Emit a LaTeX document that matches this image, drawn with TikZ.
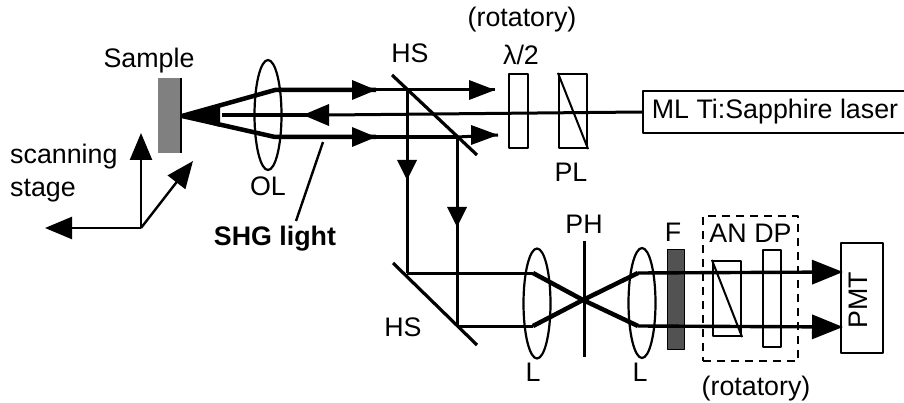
\documentclass[tikz,border=0pt]{standalone}
\usepackage{fontspec}
\setmainfont{Liberation Sans}
\usetikzlibrary{arrows.meta,shapes.geometric}

\tikzset{
  lbl/.style={inner sep=0pt, font=\fontsize{26.8}{32}\selectfont},
  part/.style={draw, line width=2.2pt, inner sep=0pt},
  lens/.style={part, ellipse, minimum width=27pt, minimum height=110pt},
  plate/.style={part, rectangle, minimum height=74pt},
  beam/.style={line width=3pt},
  thickbeam/.style={line width=4.5pt},
  ray/.style={line width=3.4pt, -{Triangle[length=31pt,width=24pt]}},
  axis/.style={line width=2.4pt, -{Triangle[length=27pt,width=22pt]}},
  mirror/.style={line width=3.2pt}
}

\begin{document}
\begin{tikzpicture}[x=1pt, y=-1pt, line cap=butt, line join=round]

  %% ==== coordinates on the beams ====
  \coordinate (tip) at (182,116);
  \coordinate (up1) at (275,90);
  \coordinate (lo1) at (275,137);
  \coordinate (upA) at (376,90);
  \coordinate (loA) at (376,137);
  \coordinate (upS) at (407,90);
  \coordinate (loS) at (457,137);
  \coordinate (midA) at (329,115);
  \coordinate (midB) at (303,115);
  \coordinate (in) at (222,115);
  \coordinate (up2) at (495,90);
  \coordinate (lo2) at (498,135);
  \coordinate (dnA) at (407,160);
  \coordinate (dnB) at (407,180);
  \coordinate (dnC) at (457,207);
  \coordinate (dnD) at (457,227);
  \coordinate (hsT) at (407,273);
  \coordinate (hsB) at (457,326);
  \coordinate (la1) at (533,273);
  \coordinate (lb1) at (533,326);
  \coordinate (focus) at (583,300);
  \coordinate (la2) at (638,273);
  \coordinate (lb2) at (638,326);
  \coordinate (pa) at (843,272);
  \coordinate (pb) at (843,327);
  \coordinate (st) at (141,228);
  \coordinate (shgA) at (323,142);
  \coordinate (shgB) at (296,221);

  %% ==== parts ====
  \node[fill=black!50, minimum width=23pt, minimum height=75pt, inner sep=0pt] (sample) at (169.5,115.5) {};
  \draw[line width=1.5pt] (sample.north east) -- (sample.south east);
  \node[lens] (ol) at (268,115) {};
  \node[lens] (l1) at (537,303.5) {};
  \node[lens] (l2) at (642,303) {};
  \node[plate, minimum width=19pt] (half) at (518.5,111) {};
  \node[plate, minimum width=28pt] (pl) at (573,111) {};
  \node[part, minimum width=264pt, minimum height=42pt, anchor=west] (laser) at (642,112) {};
  \node[draw=black, fill=black!68, line width=1pt, minimum width=17pt, minimum height=99pt, inner sep=0pt] (filt) at (675.5,299.5) {};
  \node[part, dashed, dash pattern=on 8pt off 6pt, minimum width=95pt, minimum height=145pt] (rot) at (750.5,288.5) {};
  \node[part, minimum width=28pt, minimum height=75pt] (an) at (727,298.5) {};
  \node[part, minimum width=18pt, minimum height=97pt] (dp) at (772,298.5) {};
  \node[part, minimum width=42pt, minimum height=110pt] (pmt) at (862,298) {};

  %% ==== beams ====
  \draw[thickbeam] (tip) -- (up1) -- (upA);
  \draw[thickbeam] (tip) -- (lo1) -- (loA);
  \fill (tip) -- (220,104) -- (220,127) -- cycle;
  \draw[beam] (laser.west) -- (midA);
  \draw[line width=4pt] (midA) -- (in);
  \draw[beam] (upA) -- (upS) -- (up2);
  \draw[thickbeam] (loA) -- (loS);
  \draw[beam] (loS) -- (lo2);
  \fill (352,80) -- (upA) -- (352,100) -- cycle;
  \fill (352,127) -- (loA) -- (352,147) -- cycle;
  \fill (midB) -- (329,104) -- (329,126) -- cycle;
  \fill (469,80) -- (up2) -- (469,100) -- cycle;
  \fill (471,125) -- (lo2) -- (471,145) -- cycle;
  \draw[beam] (upS) -- (hsT);
  \draw[beam] (loS) -- (hsB);
  \fill (397,160) -- (dnB) -- (417,160) -- cycle;
  \fill (447,207) -- (dnD) -- (467,207) -- cycle;
  \draw[beam] (hsT) -- (la1);
  \draw[beam] (hsB) -- (lb1);
  \draw[thickbeam] (la1) -- (focus) -- (lb2);
  \draw[thickbeam] (lb1) -- (focus) -- (la2);
  \draw[ray] (la2) -- (pa);
  \draw[ray] (lb2) -- (pb);

  %% ==== mirrors, pinhole, wedges ====
  \draw[mirror] (392,75) -- (477,155);
  \draw[mirror] (393,263) -- (477,345);
  \draw[line width=3pt] (584,241) -- (584,357);
  \draw[line width=2pt] (pl.north west) -- (pl.south east);
  \draw[line width=2pt] (an.north west) -- (an.south east);

  %% ==== stage axes ====
  \draw[axis] (st) -- (141,133);
  \draw[axis] (st) -- (45,228);
  \draw[axis] (st) -- (193,161);

  %% ==== labels ====
  \node[lbl] (samplelbl) at (149,61) {Sample};
  \node[lbl] (hsa) at (410,53) {HS};
  \node[lbl] (ollbl) at (268,186) {OL};
  \node[lbl, font=\fontsize{26.8}{32}\selectfont\bfseries] (shg) at (275,239) {SHG light};
  \node[lbl, anchor=west] (scan) at (10,157) {scanning};
  \node[lbl, anchor=west] (stage) at (10,191) {stage};
  \node[lbl] (rota) at (522,20) {(rotatory)};
  \node[lbl] (lam) at (521,55) {λ/2};
  \node[lbl] (pllbl) at (571,172) {PL};
  \node[lbl] (mlt) at (775,112) {ML Ti:Sapphire laser};
  \node[lbl] (hsb) at (403,327) {HS};
  \node[lbl] (ph) at (584,224) {PH};
  \node[lbl] (flbl) at (673,232) {F};
  \node[lbl] (anlbl) at (728,233) {AN};
  \node[lbl] (dplbl) at (773,233) {DP};
  \node[lbl] (la) at (533,372) {L};
  \node[lbl] (lb) at (640,372) {L};
  \node[lbl] (rotb) at (756,389) {(rotatory)};
  \node[lbl, rotate=90] (pmtlbl) at (858,300) {PMT};

  \draw[line width=2.4pt] (shgA) -- (shgB);

  \pgfresetboundingbox
  \path[use as bounding box] (0,0) rectangle (904,403);
\end{tikzpicture}
\end{document}
